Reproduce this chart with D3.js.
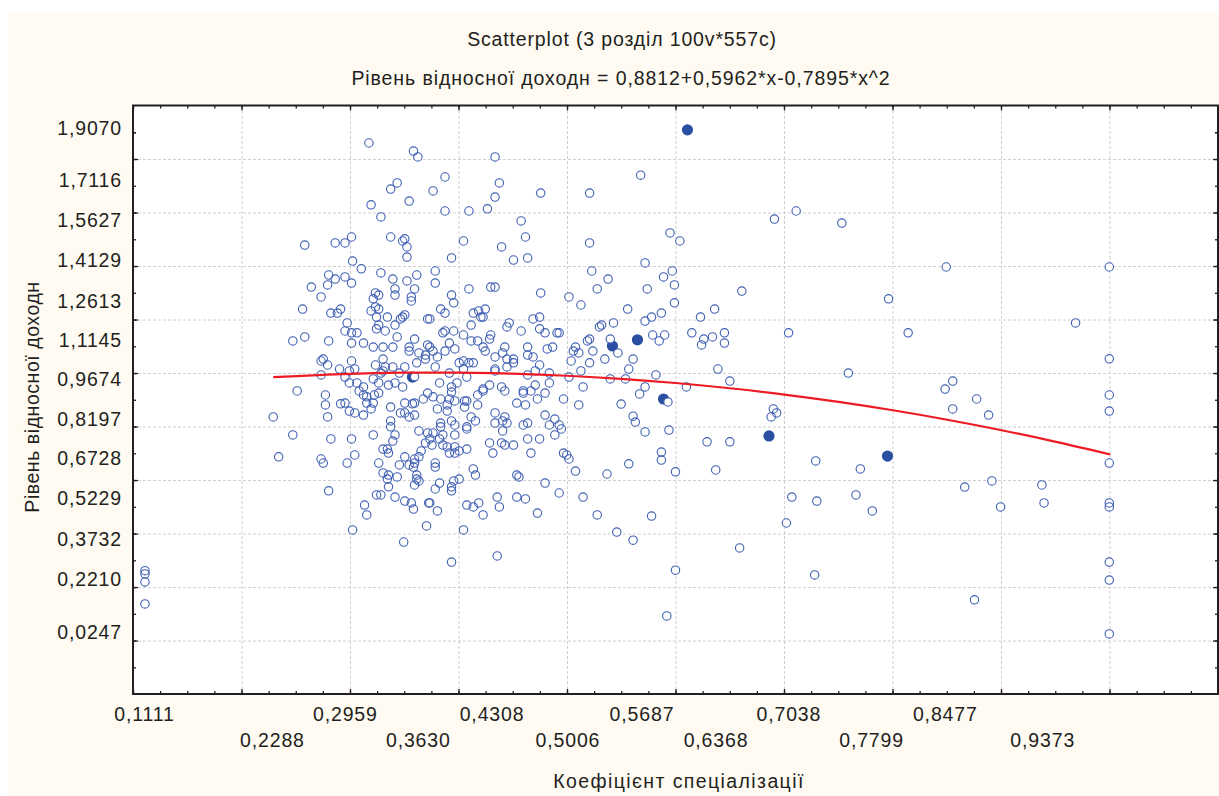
<!DOCTYPE html>
<html><head><meta charset="utf-8">
<script src="https://cdn.jsdelivr.net/npm/d3@7/dist/d3.min.js"></script>
<style>html,body{margin:0;padding:0;background:#fff;overflow:hidden}svg{display:block}text{font-family:"Liberation Sans",Arial,sans-serif;fill:#231f20}</style>
</head><body><svg id="c" width="1219" height="796"></svg>
<script>
const titleLine = "Scatterplot (3 розділ 100v*557c)";
const subtitleLine = "Рівень відносної доходн = 0,8812+0,5962*x-0,7895*x^2";
const xAxisTitle = "Коефіцієнт спеціалізації";
const yAxisTitle = "Рівень відносної доходн";
const xLabelsRow1 = [0.1111,0.2959,0.4308,0.5687,0.7038,0.8477];
const xLabelsRow2 = [0.2288,0.3630,0.5006,0.6368,0.7799,0.9373];
const yLabels = [1.9070,1.7116,1.5627,1.4129,1.2613,1.1145,0.9674,0.8197,0.6728,0.5229,0.3732,0.2210,0.0247];
const xDomain = [0.101,1.099];
const yDomain = [-0.2065,1.991];
const xGridValues = [0.101,0.2008,0.3006,0.4004,0.5002,0.6,0.6998,0.7996,0.8994,0.9992];
const yGridValues = [1.7912,1.5914,1.3916,1.1918,0.992,0.7922,0.5924,0.3926,0.1928,-0.007];
const fitX = [0.23,0.3,0.35,0.4,0.45,0.5,0.55,0.6,0.65,0.7,0.75,0.8,0.85,0.9,0.95,1];
const fitY = [0.9765,0.989,0.9932,0.9934,0.9896,0.9819,0.9703,0.9547,0.9351,0.9116,0.8843,0.8529,0.8176,0.7783,0.7351,0.6879];
const filledPoints = [[0.358,0.977],[0.542,1.093],[0.565,1.116],[0.589,0.895],[0.611,1.900],[0.686,0.757],[0.795,0.682]];
const hollowPoints = [
[0.318,1.851],[0.359,1.821],[0.363,1.799],[0.344,1.702],[0.338,1.679],[0.355,1.634],[0.320,1.620],[0.329,1.575],[0.302,1.500],[0.338,1.500],[0.351,1.493],[0.349,1.485],[0.353,1.463],[0.296,1.478],[0.287,1.478],[0.259,1.470],[0.353,1.425],[0.303,1.410],
[0.434,1.799],[0.388,1.724],[0.438,1.702],[0.377,1.672],[0.434,1.649],[0.476,1.664],[0.521,1.664],[0.388,1.597],[0.410,1.597],[0.427,1.605],[0.458,1.560],[0.462,1.500],[0.405,1.485],[0.440,1.463],[0.521,1.478],[0.394,1.422],[0.451,1.414],[0.464,1.422],
[0.311,1.381],[0.329,1.366],[0.281,1.358],[0.287,1.343],[0.296,1.351],[0.280,1.321],[0.302,1.328],[0.265,1.313],[0.274,1.276],[0.340,1.343],[0.353,1.336],[0.362,1.358],[0.360,1.306],[0.342,1.306],[0.342,1.283],[0.324,1.291],[0.327,1.283],[0.322,1.269],[0.357,1.276],[0.357,1.261],[0.257,1.231],[0.283,1.216],[0.289,1.216],[0.292,1.231],[0.320,1.224],[0.324,1.239],[0.327,1.231],[0.325,1.201],[0.335,1.201],[0.351,1.209],[0.347,1.194],[0.349,1.201],[0.372,1.194],[0.298,1.179],[0.327,1.171],[0.342,1.171],[0.325,1.157],[0.333,1.149],[0.296,1.149],[0.302,1.142],[0.307,1.142],[0.344,1.127],[0.360,1.119],[0.248,1.112],[0.259,1.127],[0.281,1.112],[0.302,1.104],[0.313,1.104],[0.322,1.089],[0.331,1.089],[0.340,1.089],[0.355,1.089],[0.355,1.074],[0.372,1.097],[0.364,1.067],[0.370,1.044],[0.370,1.059],[0.276,1.044],[0.274,1.037],[0.280,1.022],[0.302,1.037],[0.331,1.044],[0.362,1.030],[0.324,1.022],[0.340,1.015],[0.351,1.015],[0.333,1.015],[0.331,1.000],[0.291,1.007],[0.300,1.000],[0.305,1.007],[0.329,0.992],[0.346,0.992],[0.274,0.985],[0.296,0.977],[0.322,0.970],[0.360,0.978],[0.300,0.955],[0.307,0.955],[0.327,0.955],[0.336,0.947],[0.342,0.955],[0.349,0.940],[0.313,0.940],[0.252,0.925],
[0.379,1.373],[0.523,1.373],[0.379,1.328],[0.410,1.306],[0.430,1.313],[0.434,1.313],[0.476,1.291],[0.528,1.306],[0.394,1.283],[0.396,1.254],[0.502,1.276],[0.513,1.246],[0.384,1.231],[0.388,1.216],[0.414,1.216],[0.419,1.224],[0.425,1.231],[0.421,1.201],[0.423,1.201],[0.374,1.194],[0.412,1.171],[0.469,1.194],[0.475,1.201],[0.447,1.179],[0.445,1.164],[0.530,1.164],[0.386,1.142],[0.388,1.149],[0.396,1.149],[0.405,1.134],[0.430,1.134],[0.429,1.119],[0.458,1.149],[0.475,1.157],[0.480,1.142],[0.491,1.142],[0.493,1.142],[0.412,1.112],[0.418,1.112],[0.423,1.089],[0.443,1.089],[0.392,1.104],[0.374,1.089],[0.425,1.074],[0.521,1.119],[0.519,1.112],[0.508,1.089],[0.487,1.089],[0.482,1.082],[0.464,1.089],[0.524,1.074],[0.377,1.074],[0.388,1.074],[0.397,1.082],[0.506,1.074],[0.511,1.067],[0.441,1.067],[0.464,1.059],[0.469,1.052],[0.434,1.052],[0.381,1.052],[0.445,1.044],[0.451,1.044],[0.504,1.037],[0.521,1.030],[0.451,1.030],[0.401,1.030],[0.405,1.037],[0.410,1.030],[0.414,1.030],[0.475,1.022],[0.445,1.015],[0.379,1.015],[0.405,1.007],[0.434,1.007],[0.434,1.000],[0.471,1.000],[0.513,1.000],[0.392,0.992],[0.484,0.992],[0.464,0.985],[0.502,0.977],[0.408,0.977],[0.383,0.955],[0.399,0.955],[0.429,0.947],[0.484,0.955],[0.471,0.947],[0.394,0.940],[0.440,0.940],[0.515,0.940],[0.423,0.932],[0.460,0.925],
[0.278,0.910],[0.323,0.910],[0.309,0.925],[0.313,0.910],[0.316,0.903],[0.327,0.917],[0.372,0.917],[0.278,0.873],[0.292,0.877],[0.296,0.880],[0.316,0.880],[0.322,0.880],[0.320,0.858],[0.338,0.865],[0.351,0.880],[0.358,0.877],[0.360,0.880],[0.368,0.895],[0.300,0.850],[0.305,0.843],[0.313,0.835],[0.347,0.843],[0.351,0.843],[0.355,0.828],[0.360,0.835],[0.230,0.828],[0.280,0.828],[0.338,0.813],[0.338,0.791],[0.364,0.776],[0.372,0.768],[0.342,0.761],[0.248,0.761],[0.322,0.761],[0.283,0.746],[0.302,0.746],[0.340,0.738],[0.370,0.731],[0.331,0.708],[0.335,0.708],[0.336,0.693],[0.366,0.701],[0.235,0.679],[0.305,0.686],[0.274,0.671],[0.276,0.656],[0.298,0.656],[0.351,0.679],[0.364,0.679],[0.360,0.671],[0.327,0.656],[0.346,0.649],[0.355,0.649],[0.360,0.656],[0.359,0.641],[0.331,0.619],[0.336,0.611],[0.344,0.604],[0.335,0.596],[0.362,0.611],[0.362,0.596],[0.364,0.589],[0.360,0.574],[0.336,0.567],[0.281,0.552],[0.325,0.537],[0.329,0.537],[0.342,0.529],[0.351,0.514],[0.357,0.507],[0.359,0.484],[0.373,0.507],[0.314,0.499],[0.316,0.462],
[0.377,0.903],[0.384,0.895],[0.394,0.921],[0.392,0.895],[0.397,0.888],[0.390,0.873],[0.390,0.850],[0.381,0.858],[0.406,0.888],[0.408,0.888],[0.406,0.865],[0.418,0.910],[0.418,0.873],[0.423,0.925],[0.443,0.925],[0.460,0.917],[0.467,0.925],[0.480,0.917],[0.473,0.895],[0.454,0.880],[0.462,0.873],[0.497,0.895],[0.511,0.873],[0.412,0.828],[0.416,0.813],[0.434,0.843],[0.434,0.805],[0.443,0.828],[0.441,0.813],[0.445,0.805],[0.441,0.776],[0.460,0.798],[0.464,0.805],[0.480,0.835],[0.489,0.820],[0.484,0.798],[0.493,0.798],[0.495,0.783],[0.489,0.761],[0.394,0.813],[0.397,0.798],[0.384,0.805],[0.384,0.791],[0.408,0.791],[0.408,0.783],[0.377,0.768],[0.386,0.761],[0.397,0.761],[0.383,0.746],[0.374,0.746],[0.464,0.746],[0.475,0.746],[0.429,0.731],[0.440,0.731],[0.443,0.723],[0.451,0.723],[0.376,0.723],[0.386,0.723],[0.390,0.716],[0.397,0.716],[0.408,0.708],[0.401,0.701],[0.392,0.693],[0.397,0.693],[0.432,0.693],[0.467,0.693],[0.497,0.693],[0.500,0.686],[0.502,0.671],[0.379,0.656],[0.379,0.641],[0.414,0.634],[0.416,0.611],[0.454,0.611],[0.456,0.604],[0.508,0.626],[0.401,0.596],[0.396,0.589],[0.480,0.581],[0.383,0.581],[0.394,0.567],[0.379,0.559],[0.394,0.552],[0.493,0.544],[0.436,0.529],[0.454,0.529],[0.462,0.522],[0.515,0.529],[0.374,0.507],[0.408,0.499],[0.414,0.492],[0.419,0.507],[0.438,0.492],[0.381,0.477],[0.423,0.462],[0.473,0.469],[0.528,0.462],
[0.303,0.406],[0.350,0.361],[0.371,0.421],[0.405,0.406],[0.394,0.286],[0.436,0.309],[0.546,0.398],[0.561,0.368],[0.578,0.458],[0.600,0.256],[0.592,0.085],[0.659,0.339],
[0.572,1.403],[0.597,1.373],[0.589,1.351],[0.599,1.321],[0.538,1.343],[0.574,1.306],[0.661,1.298],[0.599,1.254],[0.556,1.231],[0.587,1.216],[0.578,1.201],[0.572,1.186],[0.543,1.179],[0.532,1.171],[0.636,1.231],[0.623,1.201],[0.615,1.142],[0.645,1.142],[0.579,1.134],[0.590,1.134],[0.585,1.112],[0.540,1.119],[0.634,1.127],[0.626,1.119],[0.624,1.097],[0.645,1.104],[0.547,1.067],[0.535,1.044],[0.561,1.044],[0.557,1.007],[0.582,0.985],[0.639,1.007],[0.650,0.962],[0.540,0.970],[0.554,0.970],[0.572,0.940],[0.610,0.940],[0.567,0.914],[0.593,0.884],[0.550,0.876],[0.561,0.831],[0.563,0.809],[0.572,0.772],[0.594,0.779],[0.629,0.735],[0.650,0.735],[0.587,0.697],[0.587,0.667],[0.557,0.653],[0.537,0.615],[0.600,0.623],[0.637,0.630],
[0.568,1.731],[0.595,1.515],[0.604,1.485],[0.691,1.567],[0.711,1.597],[0.753,1.552],[0.849,1.388],[0.999,1.388],[0.796,1.269],[0.968,1.179],[0.814,1.142],[0.704,1.142],[0.759,0.992],[0.999,1.045],[0.855,0.962],[0.848,0.932],[0.877,0.895],[0.999,0.910],[0.855,0.858],[0.888,0.835],[0.999,0.850],[0.690,0.858],[0.693,0.843],[0.688,0.828],[0.729,0.664],[0.770,0.634],[0.999,0.656],[0.866,0.566],[0.891,0.589],[0.937,0.574],[0.707,0.529],[0.730,0.514],[0.766,0.537],[0.781,0.477],[0.899,0.492],[0.939,0.507],[0.999,0.507],[0.999,0.492],[0.702,0.432],[0.999,0.286],[0.728,0.238],[0.999,0.219],[0.875,0.145],[0.999,0.018],
[0.112,0.254],[0.112,0.242],[0.112,0.212],[0.112,0.130]
];

const W = 1219, H = 796, L = 133, R = 1218, T = 105.5, B = 694;
const svg = d3.select("#c");
const comma = v => d3.format(".4f")(v).replace(".", ",");
const x = d3.scaleLinear().domain(xDomain).range([L, R]);
const y = d3.scaleLinear().domain(yDomain).range([B, T]);

svg.append("rect").attr("x", 8).attr("y", 13).attr("width", W - 8).attr("height", H - 13).attr("fill", "#FFFBF3");
svg.append("rect").attr("x", L).attr("y", T).attr("width", R - L).attr("height", B - T).attr("fill", "#fff");

function grid(g) {
  g.select(".domain").remove();
  g.selectAll("line").attr("stroke", "#cfcfcf").attr("stroke-width", 1).attr("stroke-dasharray", "3 2");
  g.selectAll("text").remove();
}
svg.append("g").attr("transform", `translate(0,${B})`).call(d3.axisBottom(x).tickValues(xGridValues).tickSize(-(B - T))).call(grid);
svg.append("g").attr("transform", `translate(${L},0)`).call(d3.axisLeft(y).tickValues(yGridValues).tickSize(-(R - L))).call(grid);

const tickStyle = g => {
  g.select(".domain").remove();
  g.selectAll("line").attr("stroke", "#231f20").attr("stroke-width", 1.3);
  g.selectAll("text").remove();
};
const xMinor = d3.merge(xGridValues.map(v => [0, 1, 2, 3].map(k => v + k * 0.02495)));
const yMinor = d3.merge(yGridValues.map(v => [0, 1].map(k => v + k * 0.0999))).concat([-0.107, 1.8911]);
[[d3.axisBottom, B, -3], [d3.axisTop, T, -3]].forEach(([ax, pos, s]) => {
  svg.append("g").attr("transform", `translate(0,${pos})`).call(ax(x).tickValues(xMinor).tickSize(s)).call(tickStyle);
  svg.append("g").attr("transform", `translate(0,${pos})`).call(ax(x).tickValues(xGridValues).tickSize(-5)).call(tickStyle);
});
[[d3.axisLeft, L], [d3.axisRight, R]].forEach(([ax, pos]) => {
  svg.append("g").attr("transform", `translate(${pos},0)`).call(ax(y).tickValues(yMinor).tickSize(-3)).call(tickStyle);
  svg.append("g").attr("transform", `translate(${pos},0)`).call(ax(y).tickValues(yGridValues).tickSize(-5)).call(tickStyle);
});

const labelStyle = g => {
  g.select(".domain").remove();
  g.selectAll("line").remove();
  g.selectAll("text").attr("font-size", 19.5).attr("letter-spacing", 0.85).attr("fill", "#231f20").attr("font-family", '"Liberation Sans",Arial,sans-serif');
};
svg.append("g").attr("transform", `translate(0,${B})`).call(d3.axisBottom(x).tickValues(xLabelsRow1).tickFormat(comma).tickSize(0).tickPadding(13)).call(labelStyle);
svg.append("g").attr("transform", `translate(0,${B})`).call(d3.axisBottom(x).tickValues(xLabelsRow2).tickFormat(comma).tickSize(0).tickPadding(39)).call(labelStyle);
svg.append("g").attr("transform", `translate(${L},0)`).call(d3.axisLeft(y).tickValues(yLabels).tickFormat(comma).tickSize(0).tickPadding(11)).call(labelStyle);

svg.append("rect").attr("x", L).attr("y", T).attr("width", R - L).attr("height", B - T).attr("fill", "none").attr("stroke", "#231f20").attr("stroke-width", 2);

const plot = svg.append("g");
plot.selectAll(".f").data(filledPoints).join("circle").attr("class", "f")
  .attr("cx", d => x(d[0])).attr("cy", d => y(d[1])).attr("r", 5.6).attr("fill", "#2a4fa2");
plot.selectAll(".w").data(hollowPoints).join("circle").attr("class", "w")
  .attr("cx", d => x(d[0])).attr("cy", d => y(d[1])).attr("r", 3.8).attr("fill", "#fff");
plot.selectAll(".h").data(hollowPoints).join("circle").attr("class", "h")
  .attr("cx", d => x(d[0])).attr("cy", d => y(d[1])).attr("r", 4.2).attr("fill", "none")
  .attr("stroke", "#3f5fb2").attr("stroke-width", 1.1);

const fitLine = d3.line().x(d => x(d[0])).y(d => y(d[1])).curve(d3.curveMonotoneX);
plot.append("path").datum(d3.zip(fitX, fitY)).attr("d", fitLine).attr("fill", "none").attr("stroke", "#ed1c24").attr("stroke-width", 2.2);

const t = (s, px, py, ls) => svg.append("text").attr("x", px).attr("y", py).attr("text-anchor", "middle").attr("font-size", 19.5).attr("letter-spacing", ls).text(s);
t(titleLine, 622, 46, 0.85);
t(subtitleLine, 621, 85, 0.9);
t(xAxisTitle, 679, 788, 1.4);
svg.append("text").attr("transform", "translate(39,397) rotate(-90)").attr("text-anchor", "middle").attr("font-size", 19.5).attr("letter-spacing", 0.55).text(yAxisTitle);
</script></body></html>
